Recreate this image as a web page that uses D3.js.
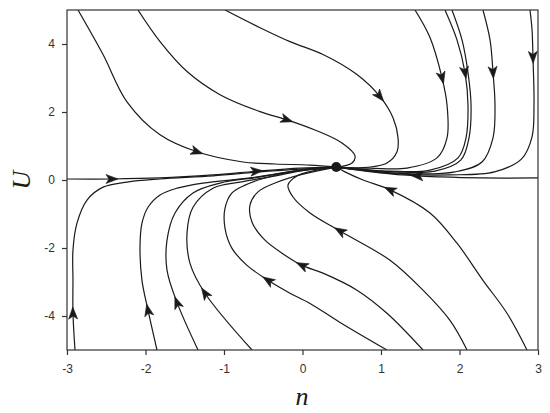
<!DOCTYPE html>
<html>
<head>
<meta charset="utf-8">
<script src="https://cdn.jsdelivr.net/npm/d3@7"></script>
<style>
  html, body { margin: 0; padding: 0; background: #fff; }
  svg { display: block; }
</style>
</head>
<body>
<svg id="chart" width="550" height="413"></svg>
<script>
// ---- data (n, U), ordered along the flow ----
const xTicks = [-3, -2, -1, 0, 1, 2, 3];
const yTicks = [-4, -2, 0, 2, 4];
const node = [0.43, 0.38];

const trajA1 = [[-2.860,5.0],[-2.541,3.69],[-2.236,2.30],[-1.815,1.33],[-1.344,0.83],[-0.758,0.53],[-0.350,0.47],[0.096,0.44],[0.43,0.38]];
const trajA2 = [[-2.096,5.0],[-1.815,4.07],[-1.471,3.19],[-1.051,2.51],[-0.541,2.01],[-0.197,1.77],[0.159,1.47],[0.503,1.09],[0.669,0.71],[0.631,0.50],[0.43,0.38]];
const trajA3 = [[-0.987,5.0],[-0.541,4.48],[-0.159,4.07],[0.261,3.69],[0.694,3.10],[0.987,2.45],[1.153,1.83],[1.217,1.24],[1.204,0.83],[1.076,0.50],[0.694,0.35],[0.43,0.38]];
const trajR1 = [[1.433,5.0],[1.624,4.19],[1.777,3.01],[1.841,2.21],[1.841,1.24],[1.713,0.65],[1.331,0.35],[0.860,0.35],[0.43,0.38]];
const trajR2 = [[1.815,5.0],[1.968,4.12],[2.070,3.16],[2.108,2.21],[2.083,1.24],[1.981,0.65],[1.624,0.29],[1.115,0.26],[0.43,0.38]];
const trajR3 = [[1.904,5.0],[2.032,4.12],[2.108,3.16],[2.147,2.21],[2.121,1.24],[2.019,0.59],[1.688,0.26],[1.178,0.24],[0.43,0.38]];
const trajR4 = [[2.299,5.0],[2.389,4.12],[2.427,3.16],[2.452,2.21],[2.427,1.24],[2.287,0.53],[1.943,0.24],[1.497,0.18],[0.987,0.24],[0.43,0.38]];
const trajR5 = [[2.898,5.0],[2.924,4.42],[2.936,3.60],[2.949,2.21],[2.924,1.27],[2.791,0.62],[2.446,0.24],[1.879,0.15],[1.242,0.18],[0.43,0.38]];
const trajR0 = [[3.0,0.06],[2.261,0.06],[1.752,0.09],[1.459,0.12],[0.987,0.21],[0.43,0.38]];
const trajL0 = [[-3.0,0.03],[-2.427,0.03],[-1.815,0.06],[-1.140,0.15],[-0.580,0.26],[-0.032,0.35],[0.43,0.38]];
const trajL1 = [[-2.898,-5.0],[-2.924,-3.92],[-2.924,-2.95],[-2.924,-2.06],[-2.873,-1.27],[-2.745,-0.59],[-2.541,-0.21],[-2.236,-0.06],[-1.815,0.03],[-1.140,0.12],[-0.541,0.24],[-0.032,0.32],[0.43,0.38]];
const trajL2 = [[-1.854,-5.0],[-1.968,-3.83],[-2.045,-2.95],[-2.070,-1.98],[-2.045,-1.27],[-1.968,-0.80],[-1.815,-0.44],[-1.599,-0.24],[-1.268,-0.09],[-0.669,0.06],[-0.096,0.26],[0.43,0.38]];
const trajL3 = [[-1.331,-5.0],[-1.599,-3.60],[-1.726,-2.65],[-1.726,-1.77],[-1.624,-0.97],[-1.395,-0.38],[-1.051,-0.09],[-0.541,0.09],[-0.032,0.29],[0.43,0.38]];
const trajL4 = [[-0.643,-5.0],[-1.242,-3.33],[-1.433,-2.45],[-1.471,-1.56],[-1.395,-0.80],[-1.140,-0.24],[-0.796,-0.06],[-0.414,0.09],[0.032,0.29],[0.43,0.38]];
const trajL5 = [[1.076,-5.0],[0.478,-4.19],[0.096,-3.63],[-0.159,-3.33],[-0.439,-2.95],[-0.707,-2.51],[-0.898,-2.01],[-0.987,-1.42],[-0.987,-0.83],[-0.898,-0.38],[-0.732,-0.15],[-0.478,0.06],[-0.096,0.26],[0.43,0.38]];
const trajC2 = [[1.535,-5.0],[1.076,-3.92],[0.694,-3.24],[0.261,-2.74],[-0.006,-2.51],[-0.223,-2.21],[-0.478,-1.77],[-0.643,-1.24],[-0.669,-0.74],[-0.567,-0.35],[-0.350,-0.09],[-0.032,0.15],[0.43,0.38]];
const trajC3 = [[2.096,-5.0],[1.879,-4.13],[1.535,-3.24],[1.115,-2.36],[0.478,-1.50],[0.096,-0.97],[-0.121,-0.50],[-0.185,-0.15],[-0.070,0.12],[0.185,0.29],[0.43,0.38]];
const trajC4 = [[2.860,-5.0],[2.605,-3.92],[2.299,-2.95],[1.968,-1.86],[1.624,-0.97],[1.115,-0.29],[0.771,0.0],[0.541,0.24],[0.43,0.38]];

const trajectories = {A1:trajA1, A2:trajA2, A3:trajA3, R1:trajR1, R2:trajR2, R3:trajR3, R4:trajR4, R5:trajR5,
  R0:trajR0, L0:trajL0, L1:trajL1, L2:trajL2, L3:trajL3, L4:trajL4, L5:trajL5, C2:trajC2, C3:trajC3, C4:trajC4};

// arrowheads: [trajectory, n, U]
const arrowMarks = [
  ["L0",-2.427,0.03],["L0",-0.580,0.26],["A1",-1.344,0.83],["A2",-0.197,1.77],["A3",0.987,2.45],
  ["R1",1.777,3.01],["R2",2.070,3.16],["R4",2.427,3.16],["R5",2.936,3.60],["R0",1.459,0.12],
  ["C4",1.115,-0.29],["C3",0.478,-1.50],["C2",-0.006,-2.51],["L5",-0.439,-2.95],
  ["L4",-1.242,-3.33],["L3",-1.599,-3.60],["L2",-1.968,-3.83],["L1",-2.924,-3.92]
];

// ---- layout ----
const svg = d3.select("#chart");
const x = d3.scaleLinear().domain([-3, 3]).range([67, 538]);
const y = d3.scaleLinear().domain([-5, 5]).range([350, 10]);
const ink = "#1a1a1a";

svg.append("defs").append("clipPath").attr("id", "plotclip")
  .append("rect").attr("x", 67).attr("y", 10).attr("width", 471).attr("height", 340);

const line = d3.line().x(d => x(d[0])).y(d => y(d[1])).curve(d3.curveCatmullRom.alpha(0.5));

const gLines = svg.append("g").attr("clip-path", "url(#plotclip)");
const paths = {};
Object.entries(trajectories).forEach(([k, pts]) => {
  paths[k] = gLines.append("path").attr("d", line(pts))
    .attr("fill", "none").attr("stroke", ink).attr("stroke-width", 1.2).node();
});

// arrowheads along the path tangent
arrowMarks.forEach(([k, n, u]) => {
  const p = paths[k];
  const L = p.getTotalLength();
  const tx = x(n), ty = y(u);
  let best = 0, bd = Infinity;
  for (let s = 0; s <= L; s += 0.5) {
    const q = p.getPointAtLength(s);
    const d = (q.x - tx) ** 2 + (q.y - ty) ** 2;
    if (d < bd) { bd = d; best = s; }
  }
  const a = p.getPointAtLength(Math.max(0, best - 2));
  const b = p.getPointAtLength(Math.min(L, best + 2));
  const ang = Math.atan2(b.y - a.y, b.x - a.x) * 180 / Math.PI;
  const c = p.getPointAtLength(best);
  svg.append("path").attr("d", "M6,0 L-6,-4.5 L-3,0 L-6,4.5 Z")
    .attr("fill", ink).attr("stroke", ink).attr("stroke-width", 0.6)
    .attr("transform", `translate(${c.x},${c.y}) rotate(${ang})`);
});

// node
svg.append("circle").attr("cx", x(node[0])).attr("cy", y(node[1])).attr("r", 5).attr("fill", ink);

// frame
svg.append("rect").attr("x", 67).attr("y", 10).attr("width", 471).attr("height", 340)
  .attr("fill", "none").attr("stroke", "#333").attr("stroke-width", 1.2);

// axes
const xAxis = svg.append("g").attr("transform", "translate(0,350)")
  .call(d3.axisBottom(x).tickValues(xTicks).tickSize(5).tickPadding(9).tickFormat(d => d < 0 ? "-" + Math.abs(d) : d));
const yAxis = svg.append("g").attr("transform", "translate(67,0)")
  .call(d3.axisLeft(y).tickValues(yTicks).tickSize(5).tickPadding(7).tickFormat(d => d < 0 ? "-" + Math.abs(d) : d));
[xAxis, yAxis].forEach(g => {
  g.select(".domain").remove();
  g.selectAll("line").attr("stroke", "#333").attr("stroke-width", 1.2);
  g.selectAll("text").attr("fill", "#333").style("font-family", "Liberation Sans, Arial, sans-serif").style("font-size", "12px");
});

// axis titles
svg.append("text").attr("x", 302).attr("y", 405).attr("text-anchor", "middle")
  .style("font-family", "Liberation Serif, Times New Roman, serif").style("font-style", "italic")
  .style("font-size", "26px").attr("fill", ink).text("n");
svg.append("text").attr("transform", "translate(30,180) rotate(-90)").attr("text-anchor", "middle")
  .style("font-family", "Liberation Serif, Times New Roman, serif").style("font-style", "italic")
  .style("font-size", "26px").attr("fill", ink).text("U");
</script>
</body>
</html>
